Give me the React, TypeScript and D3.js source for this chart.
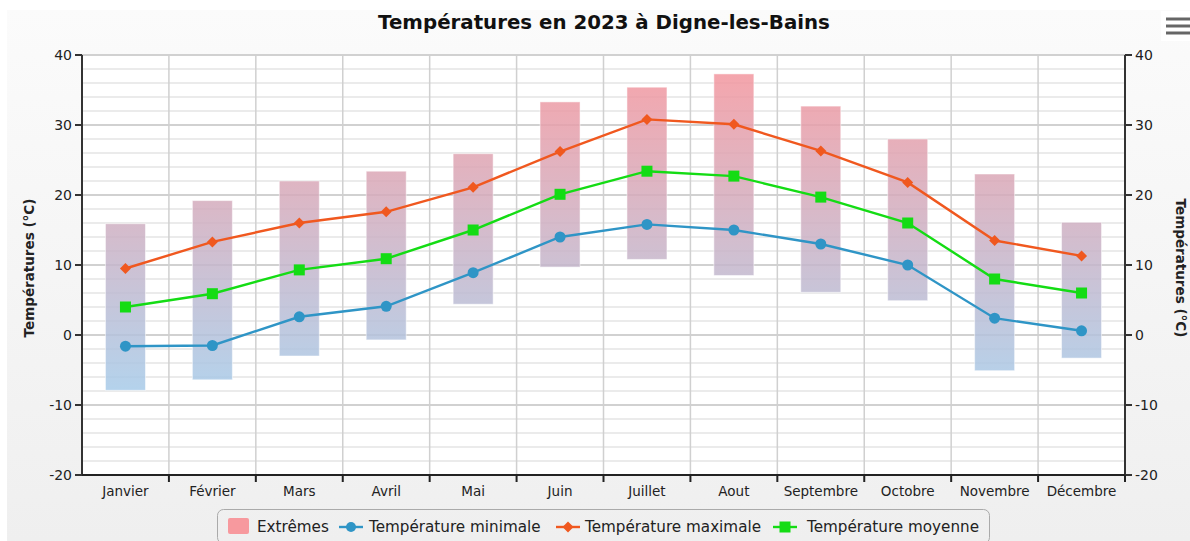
import React from "react";
import * as d3 from "d3";

const months = ["Janvier","Février","Mars","Avril","Mai","Juin","Juillet","Aout","Septembre","Octobre","Novembre","Décembre"];
const extremeLow = [-7.9,-6.4,-3.0,-0.7,4.4,9.7,10.8,8.5,6.1,4.9,-5.1,-3.3];
const extremeHigh = [15.9,19.2,22.0,23.4,25.9,33.3,35.4,37.3,32.7,28.0,23.0,16.1];
const tMin = [-1.6,-1.5,2.6,4.1,8.9,14.0,15.8,15.0,13.0,10.0,2.4,0.6];
const tMax = [9.5,13.3,16.0,17.6,21.1,26.2,30.8,30.1,26.3,21.8,13.5,11.3];
const tMean = [4.0,5.9,9.3,10.9,15.0,20.1,23.4,22.7,19.7,16.0,8.0,6.0];
const yTicks = [-20,-10,0,10,20,30,40];
const minorTicks = d3.range(-20, 41, 2);

const W = 1190, H = 541;
const L = 82, R = 1125, T = 55, B = 475;
const FONT = "'DejaVu Sans', Verdana, sans-serif";

export default function App() {
  const x = d3.scaleBand<string>().domain(months).range([L, R]).paddingInner(0).paddingOuter(0);
  const y = d3.scaleLinear().domain([-20, 40]).range([B, T]);
  const bw = x.bandwidth();
  const cx = (i: number) => (x(months[i]) as number) + bw / 2;
  const line = (vals: number[]) =>
    d3.line<number>().x((_, i) => cx(i)).y((v) => y(v))(vals) as string;

  const blue = "#2f95c6";
  const orange = "#f0581f";
  const green = "#14dc14";

  const legendY = 527;
  const lf = 15.2;
  return (
    <svg width={W} height={H} style={{ position: "absolute", left: 0, top: 0 }} fontFamily={FONT}>
      <defs>
        <linearGradient id="bg" x1="0" y1="0" x2="0" y2="1">
          <stop offset="0" stopColor="#fbfbfb" />
          <stop offset="1" stopColor="#efefef" />
        </linearGradient>
        <linearGradient id="ext" gradientUnits="userSpaceOnUse" x1="0" x2="0" y1={y(40)} y2={y(-10)}>
          <stop offset="0" stopColor="#f7939a" />
          <stop offset="1" stopColor="#a3cdec" />
        </linearGradient>
      </defs>
      <rect x={0} y={0} width={W} height={H} fill="#ffffff" />
      <rect x={7} y={10} width={W - 7} height={H - 10} fill="url(#bg)" />
      <rect x={L} y={T} width={R - L} height={B - T} fill="#ffffff" />

      {minorTicks.map((t) => (
        <line key={"m" + t} x1={L} x2={R} y1={y(t)} y2={y(t)} stroke="#e4e4e4" strokeWidth={1.3} />
      ))}
      {yTicks.map((t) => (
        <line key={"g" + t} x1={L} x2={R} y1={y(t)} y2={y(t)} stroke="#c8c8c8" strokeWidth={1.3} />
      ))}
      {months.map((m) => (
        <line key={"v" + m} x1={(x(m) as number)} x2={(x(m) as number)} y1={T} y2={B} stroke="#d0d0d0" strokeWidth={1.5} />
      ))}

      {months.map((m, i) => (
        <rect key={"b" + m} x={cx(i) - 20} width={40} y={y(extremeHigh[i])} height={y(extremeLow[i]) - y(extremeHigh[i])}
          fill="url(#ext)" fillOpacity={0.85} stroke="#ffffff" strokeOpacity={0.5} strokeWidth={1} />
      ))}

      <path d={line(tMin)} fill="none" stroke={blue} strokeWidth={2.4} />
      <path d={line(tMax)} fill="none" stroke={orange} strokeWidth={2.4} />
      <path d={line(tMean)} fill="none" stroke={green} strokeWidth={2.4} />
      {tMin.map((v, i) => <circle key={"c" + i} cx={cx(i)} cy={y(v)} r={5.5} fill={blue} />)}
      {tMax.map((v, i) => (
        <path key={"d" + i} d={`M${cx(i)},${y(v) - 5.5}L${cx(i) + 5.5},${y(v)}L${cx(i)},${y(v) + 5.5}L${cx(i) - 5.5},${y(v)}Z`} fill={orange} />
      ))}
      {tMean.map((v, i) => <rect key={"s" + i} x={cx(i) - 5.5} y={y(v) - 5.5} width={11} height={11} fill={green} />)}

      <line x1={L} x2={L} y1={T} y2={B} stroke="#333" strokeWidth={2} />
      <line x1={R} x2={R} y1={T} y2={B} stroke="#333" strokeWidth={2} />
      <line x1={L} x2={R + 1} y1={B} y2={B} stroke="#222" strokeWidth={2} />
      {yTicks.map((t) => (
        <g key={"t" + t}>
          <line x1={L - 7} x2={L} y1={y(t)} y2={y(t)} stroke="#333" strokeWidth={2} />
          <line x1={R} x2={R + 7} y1={y(t)} y2={y(t)} stroke="#333" strokeWidth={2} />
          <text x={L - 10} y={y(t)} dy="0.35em" textAnchor="end" fontSize={14} fill="#222">{t}</text>
          <text x={R + 10} y={y(t)} dy="0.35em" textAnchor="start" fontSize={14} fill="#222">{t}</text>
        </g>
      ))}
      {months.map((m, i) => (
        i > 0 ? <line key={"xt" + m} x1={x(m) as number} x2={x(m) as number} y1={B} y2={B + 7} stroke="#222" strokeWidth={2} /> : null
      ))}
      <line x1={R} x2={R} y1={B} y2={B + 7} stroke="#222" strokeWidth={2} />
      {months.map((m, i) => (
        <text key={"xl" + m} x={cx(i)} y={496} textAnchor="middle" fontSize={13.5} fill="#222">{m}</text>
      ))}

      <text transform={`translate(34,${268}) rotate(-90)`} textAnchor="middle" fontSize={13.5} fontWeight="bold" fill="#222">Températures (°C)</text>
      <text transform={`translate(1176,${268}) rotate(90)`} textAnchor="middle" fontSize={13.5} fontWeight="bold" fill="#222">Températures (°C)</text>

      <text x={604} y={29} textAnchor="middle" fontSize={19.8} fontWeight="bold" fill="#111">Températures en 2023 à Digne-les-Bains</text>

      <rect x={1161} y={11} width={29} height={30} fill="#ffffff" />
      {[19, 26, 33].map((yy) => (
        <line key={"h" + yy} x1={1166} x2={1190} y1={yy} y2={yy} stroke="#666" strokeWidth={3} />
      ))}

      <rect x={217.5} y={509.5} width={772} height={34} rx={6} fill="none" stroke="#aaa" strokeWidth={1} />
      <rect x={228} y={518} width={21} height={16} rx={2} fill="#f7999e" />
      <text x={257} y={legendY} dy="0.35em" fontSize={lf} fill="#222">Extrêmes</text>
      <line x1={339} x2={363} y1={legendY} y2={legendY} stroke={blue} strokeWidth={2.4} />
      <circle cx={351} cy={legendY} r={5} fill={blue} />
      <text x={369} y={legendY} dy="0.35em" fontSize={lf} fill="#222">Température minimale</text>
      <line x1={556} x2={580} y1={legendY} y2={legendY} stroke={orange} strokeWidth={2.4} />
      <path d={`M568,${legendY - 5.5}L573.5,${legendY}L568,${legendY + 5.5}L562.5,${legendY}Z`} fill={orange} />
      <text x={585} y={legendY} dy="0.35em" fontSize={lf} fill="#222">Température maximale</text>
      <line x1={773} x2={797} y1={legendY} y2={legendY} stroke={green} strokeWidth={2.4} />
      <rect x={779.5} y={legendY - 5.5} width={11} height={11} fill={green} />
      <text x={807} y={legendY} dy="0.35em" fontSize={lf} fill="#222">Température moyenne</text>
    </svg>
  );
}
